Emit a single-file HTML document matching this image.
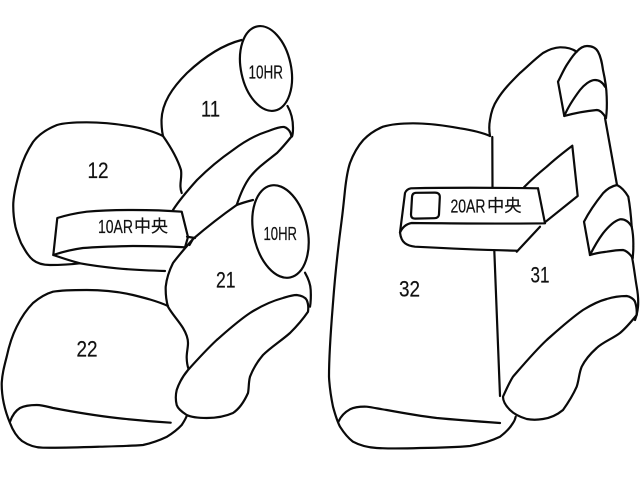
<!DOCTYPE html>
<html><head><meta charset="utf-8"><style>
html,body{margin:0;padding:0;background:#fff}
svg{display:block}
path,ellipse,rect{fill:none;stroke:#0a0a0a;stroke-width:2.2;stroke-linejoin:round;stroke-linecap:round}
text{font-family:"Liberation Sans","Noto Sans CJK JP",sans-serif;fill:#111;stroke:#111;stroke-width:.2}
</style></head><body>
<svg width="640" height="480" viewBox="0 0 640 480" xmlns="http://www.w3.org/2000/svg">
<ellipse cx="266" cy="68.5" rx="25" ry="43" transform="rotate(-12 266 68.5)"/>
<ellipse cx="280.5" cy="231.5" rx="27" ry="47" transform="rotate(-12 280.5 231.5)"/>
<path d="M241.5 40C222 45 203 58 187 73C172 88 162 103 161.5 120C161.5 127 162 132 163 136C170 146 177 157 181 170C182 177 180 182 180.5 187C180.5 189 181 191 181.7 193"/>
<path d="M287.5 106C291 112 293 120 293 128C293 131 293 134 292 136.5"/>
<path d="M173 210C180 199 188 190 197 180C208 169 220 159 233 150C245 141 256 135 267 131.5C274 129 280 126.5 284 127C288 128 291 132 291.5 136.5C287 142 282 148 277 153C267 161 258 167 250 177C244 185 240 195 236.7 205"/>
<path d="M163 136C155 132 145 129 133 126.7C118 124 102 122.3 86.7 122.3C76 122.3 65 122.5 57 125C47 129 39 134 33 142C27 151 23 160 20 170C17 181 14 192 13.3 203C13 212 14 220 15.5 227C17 233 19 238 21 243C25 250 28 256 33 260C38 264 44 265 50 265C60 265 70 264.5 80 263.3"/>
<path d="M57.3 218C67 215 77 213 86.7 211.7C100 210.5 117 210 133 210C150 210 166 210.5 181.7 211.7L188 237L185 247.3C168 246.3 150 246 133 246C115 246.3 98 246.8 83 248C72 249.5 62 252 53.3 255Z"/>
<path d="M53.3 255C62 258 71 261 80 263.3C92 265.5 104 267 116.7 268.3C133 270 149 270.5 165 271"/>
<path d="M187 236.7L195 238M189.500 245L193 239"/>
<path d="M253 200C247 201.500 242 203 236.700 205C221 216 207 227 193 239C186 247 179 255 173 263C169 271 166.500 279 165.700 286.700C165.500 294 166 300 168 306.700C172 314 178 320 183 328C186 333 188 338 188 343C188 348 186.500 353 186.700 358C186.800 362 187.500 366 188.500 369"/>
<path d="M305 272.7C308 278 310.5 284 310.7 290C311 296 311 301 310 306.7"/>
<path d="M188 370C197 360 206 350 216.7 340C227 331 238 321 250 313C261 306 272 301 283 298C288 296.5 292 295 296.7 295C301 295.5 305 297 306.7 300C308.5 304 308.5 308 308 311.7C303 319 297 326 290 333C281 341 271 347 263 355C257 362 253 369 250 376.7C248.5 382 249 388 248 393C244 402 239 409 233 413C224 417 215 418 206.7 418C199 418 192 417.5 186.7 415C182 412 178 409 176.7 405C175.5 400 175.5 395 176.7 390C179 383 183 376 188 370Z"/>
<path d="M168 306C157 301 145 298 133 295C118 291.5 102 290 86.7 290C75 290 63 290 53 291.7C45 294 39 298 33 303C26 310 21 318 16.7 326.7C12 336 9 346 6.7 356.7C4 367 2 375 1.7 384C1.7 397 5 411 10 423C13 431 17 437 22 441C28 445 35 447.7 43 447.700C62 448 82 447.300 100 446.700C115 446.300 130 446 143 445C152 443 160 440 167 436.700C173 433 178 429 181.700 425C183.700 422 185.500 419 186.700 416"/>
<path d="M10 421.700C12 416 15 411 20 408C25 405.500 31 405 36.700 405C42 405 47 406.500 53 408C74 412 95 415.500 116.700 418C135 420 152 421.500 170.700 422.700"/>
<path d="M490 136C489 130 489 125 490 120C491 113 493 106 497 100C503 90 511 82 520 73C528 66 535 59 543 53C549 49.5 554 47.5 560 47.3C566 47.2 572 48.5 576.7 51.7"/>
<path d="M558 81.7C561 76 563 71 566.7 65C570 60 573 55 576.7 51.7C580 48 583 46 587 46C592 46 596 48 598 51.7C601 57 602 63 603 70C605 79 606.5 88 606.7 96.7C607 104 607 111 606 118"/>
<path d="M558 81.7L564.3 116C575 113 586 111 596.7 110C600 110 603 113 606 118"/>
<path d="M564.3 116C568 107 574 98 580 90C584 85 590 80 595 80C600 80 603 83 605 86.7"/>
<path d="M605 118L617 185"/>
<path d="M617 185C612 186 607 189 603 193.3C596 202 589 212 584 221.7L590 255C596 253 601 252.5 606.7 251.7C612 250.8 618 250 623 250C627 251 630 254 632.7 258"/>
<path d="M617 185C621 187 625 191 628.3 196.7C630 206 631 216 631.7 226.7C633 233 633.5 240 633.3 246.7C633.5 250 633 254 632.7 258"/>
<path d="M590 255C594 247 598 240 603 233.3C608 227 614 221 620 219.3C625 219 629 222 631.7 226.7"/>
<path d="M632 257C634 267 635 277 636.7 286.7C638 294 638.5 301 638 306.7C637.5 312 636.5 316 635 320"/>
<path d="M503 396.7C506 390 509 383 513 376.7C524 364 535 351 546.7 340C558 330 570 319 583 310C591 305 599 301 606.7 299C613 297 620 296 626.7 296C630 296.5 634 299 635 301.7C636.5 306 637 310 636.7 315C631 322 626 328 620 333C612 339 603 342 596.7 348C590 354 585 360 581.7 366.7C579 373 579 380 576.7 386.7C573 395 568 403 563 410C557 415 550 418 543 419C537 420 532 420 526.7 419C520 417 514 414 510 410C506 406 503 402 503 396.7Z"/>
<path d="M524 187.3C531 180 539 173 546.7 166.7C555 159 564 152 572.3 145.7L577.7 196L545.7 221.7"/>
<path d="M540 226.7L516.7 251.700"/>
<path d="M538 188.300L545 223.300C500 224 456 223.300 411.700 223C406 224 402 228 400 232.500C400.500 237 402 241 405 243.300C408 245.500 411 246.300 415 246.700C449 248.500 483 250 516.700 250.700"/>
<path d="M400 232.500L405 193C406 190.500 408 188.800 411 188.300C453 187.500 496 187.700 538 188.300"/>
<path d="M416 192.800L435 192.600C438.500 192.600 440 194.500 439.800 197.500L439 214C439 216.800 437 218.100 434.500 218.200L415 218.600C412.300 218.600 411 217 411 214.500L412 197.500C412 194.500 413.500 192.900 416 192.800Z"/>
<path d="M492.300 137L492.500 187.500"/>
<path d="M494.300 250.500L500 396"/>
<path d="M490 136C481 132 471 130 460 128.3C445 125.5 429 123.3 413 123.3C403 123.3 392 124 383 126.7C375 130 369 134 363.3 140C357 147 353 155 350 163C347 172 346 181 345 190C344 200 343 210 341.7 220C338 248 335 276 333 303C331 328 329 352 329 376.7C329.5 387 331 397 333 406.7C335 414 337 421 340 426.7C344 433 348 438 353 441.7C360 445.5 368 447.5 376.7 448C391 448.8 405 448.5 420 448C437 447.8 454 447.5 470 446C481 444 491 441 500 436.7C505 433 510 428 513 423C514.5 421 515.2 419 515.7 416.7"/>
<path d="M338.5 421.5C341 416 345 412 350 409.3C355 407 361 406.5 366.7 406.7C373 407.5 380 409 386.7 410C403 413 420 416 436.7 418C458 420 479 421.5 500 423"/>
<g>
<text x="248.5" y="78.3" font-size="18.5" textLength="34.5" lengthAdjust="spacingAndGlyphs">10HR</text>
<text x="263.5" y="240" font-size="18.5" textLength="33.5" lengthAdjust="spacingAndGlyphs">10HR</text>
<text x="201" y="116.7" font-size="22" textLength="19" lengthAdjust="spacingAndGlyphs">11</text>
<text x="87.5" y="178" font-size="22" textLength="21" lengthAdjust="spacingAndGlyphs">12</text>
<text x="216" y="287.3" font-size="22" textLength="19.5" lengthAdjust="spacingAndGlyphs">21</text>
<text x="76.5" y="356.7" font-size="22" textLength="21" lengthAdjust="spacingAndGlyphs">22</text>
<text x="399" y="296.7" font-size="22" textLength="21" lengthAdjust="spacingAndGlyphs">32</text>
<text x="530.5" y="282.3" font-size="22" textLength="19" lengthAdjust="spacingAndGlyphs">31</text>
<text x="98" y="233" font-size="18.5" textLength="35" lengthAdjust="spacingAndGlyphs">10AR</text>
<text x="134" y="232" font-size="17" textLength="34" lengthAdjust="spacingAndGlyphs">中央</text>
<text x="450.5" y="212.3" font-size="18.5" textLength="35" lengthAdjust="spacingAndGlyphs">20AR</text>
<text x="487" y="211.5" font-size="17" textLength="34.5" lengthAdjust="spacingAndGlyphs">中央</text>
</g>
</svg>
</body></html>
